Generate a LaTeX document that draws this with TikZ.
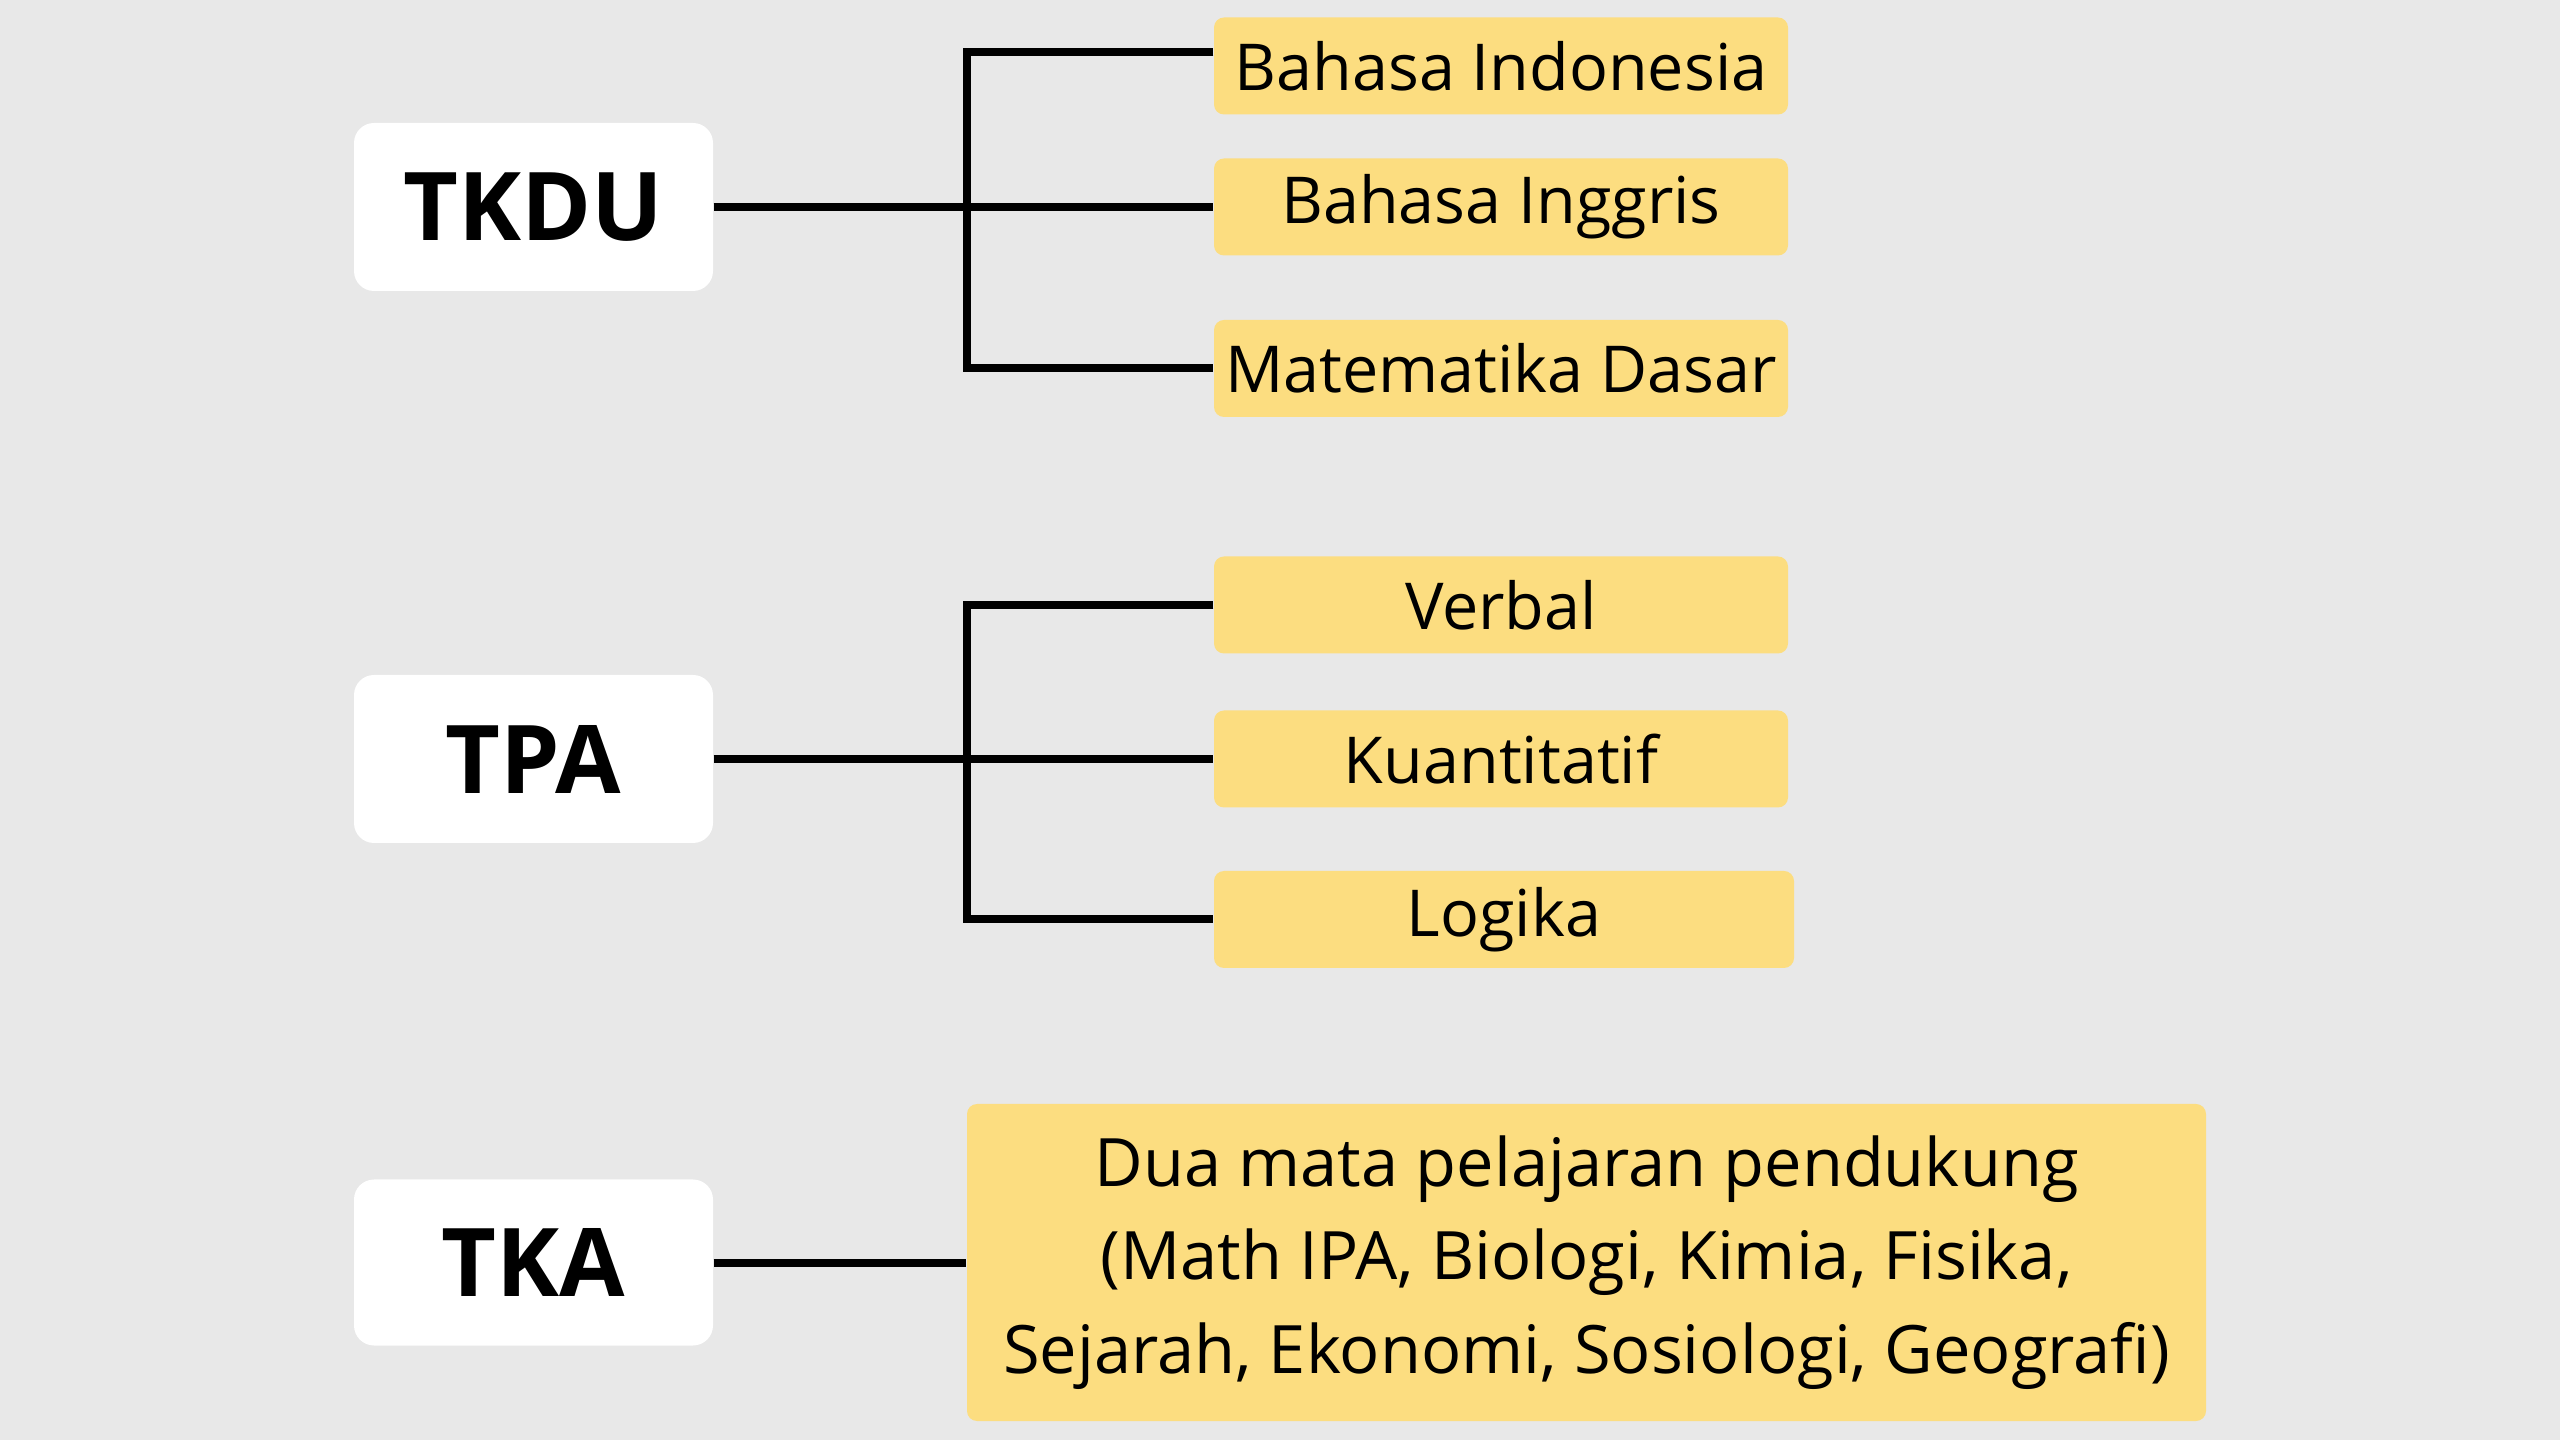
\documentclass[tikz,border=0pt]{standalone}
\usepackage{color}
\usepackage{fontspec}
\setmainfont{Open Sans}
\usepackage{tikz}
\usetikzlibrary{calc}
\usetikzlibrary{positioning}
\definecolor{bggray}{RGB}{232,232,232}
\definecolor{boxyellow}{RGB}{252,221,128}

\begin{document}
\begin{tikzpicture}[
    test/.style={fill=white, rounded corners=0.2cm, minimum width=3.59cm, minimum height=1.68cm,
      inner sep=0pt, font=\fontsize{27}{30}\selectfont\bfseries},
    subject/.style={fill=boxyellow, rounded corners=0.1cm, minimum width=5.74cm, minimum height=0.97cm,
      inner sep=0pt, font=\fontsize{18.4}{20}\selectfont},
    conn/.style={line width=0.08cm}
  ]
  \fill[bggray] (0,0) rectangle (25.6,14.4);

  % kelompok kiri
  \node[test] (tkdu) at (5.335,12.33) {TKDU};
  \node[test] (tpa) at (5.335,6.81) {TPA};
  \node[test, minimum height=1.66cm] (tka) at (5.335,1.775) {TKA};

  % TKDU
  \node[subject] (bindo) at (15.01,13.74) {Bahasa Indonesia};
  \node[subject] (bing) at (15.01,12.33) {Bahasa Inggris};
  \node[subject] (mtk) at (15.01,10.715) {Matematika Dasar};
  \coordinate (tkdufork) at (9.67,12.33);
  \draw[conn] (tkdu.east) -- (bing.west);
  \draw[conn] ([yshift=0.14cm]bindo.west) -| (tkdufork) |- (mtk.west);

  % TPA
  \node[subject] (verbal) at (15.01,8.35) {Verbal};
  \node[subject] (kuan) at (15.01,6.81) {Kuantitatif};
  \node[subject, minimum width=5.8cm, xshift=0.03cm] (logika) at (15.01,5.205) {Logika};
  \coordinate (tpafork) at (9.67,6.81);
  \draw[conn] (tpa.east) -- (kuan.west);
  \draw[conn] (verbal.west) -| (tpafork) |- (logika.west);

  % TKA
  \node[subject, minimum width=12.39cm, minimum height=3.17cm, align=center,
    font=\fontsize{19}{26.7}\selectfont] (mapel) at (15.865,1.775)
    {Dua mata pelajaran pendukung\\(Math IPA, Biologi, Kimia, Fisika,\\Sejarah, Ekonomi, Sosiologi, Geografi)};
  \draw[conn] (tka.east) -- (mapel.west);
\end{tikzpicture}
\end{document}
